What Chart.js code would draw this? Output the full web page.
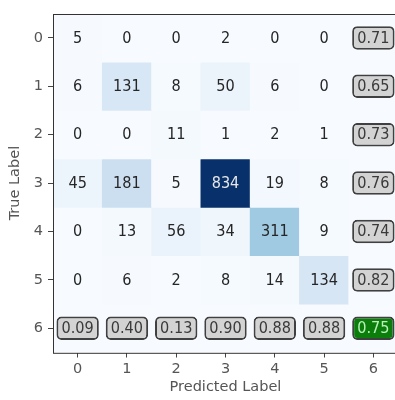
<!DOCTYPE html>
<html>
<head>
<meta charset="utf-8">
<script src="https://cdn.jsdelivr.net/npm/chart.js@4.4.0/dist/chart.umd.min.js"></script>
<style>
html,body{margin:0;padding:0;overflow:hidden;background:#fff;}
#wrap{position:absolute;left:0;top:0;width:401px;height:400px;}
</style>
</head>
<body>
<div id="wrap"><canvas id="c" width="401" height="400"></canvas></div>
<script>
const predictedLabels = ['0','1','2','3','4','5','6'];
const trueLabels = ['0','1','2','3','4','5','6'];
const counts = [
  [5, 0, 0, 2, 0, 0],
  [6, 131, 8, 50, 6, 0],
  [0, 0, 11, 1, 2, 1],
  [45, 181, 5, 834, 19, 8],
  [0, 13, 56, 34, 311, 9],
  [0, 6, 2, 8, 14, 134]
];
const rowScores = ['0.71','0.65','0.73','0.76','0.74','0.82'];
const colScores = ['0.09','0.40','0.13','0.90','0.88','0.88'];
const overallScore = '0.75';

const FONT = "'DejaVu Sans', sans-serif";
const blues = ['#f7fbff','#deebf7','#c6dbef','#9ecae1','#6baed6','#4292c6','#2171b5','#08519c','#08306b'];
function hex(h){return [parseInt(h.slice(1,3),16),parseInt(h.slice(3,5),16),parseInt(h.slice(5,7),16)];}
function bluesColor(t){
  t = Math.max(0, Math.min(1, t));
  const p = t * (blues.length - 1);
  const i = Math.min(Math.floor(p), blues.length - 2);
  const f = p - i;
  const a = hex(blues[i]), b = hex(blues[i+1]);
  return 'rgb(' + a.map((v,k)=>Math.round(v + (b[k]-v)*f)).join(',') + ')';
}
const maxCount = Math.max(...counts.flat());
const n = predictedLabels.length;

const datasets = [];
// heatmap cells
for (let r = 0; r < n; r++) {
  const data = [], colors = [];
  for (let c = 0; c < n; c++) {
    data.push([r - 0.5, r + 0.5]);
    const v = (r < counts.length && c < counts[0].length) ? counts[r][c] : 0;
    colors.push(bluesColor(v / maxCount));
  }
  datasets.push({data, backgroundColor: colors, borderWidth: 0, barPercentage: 1, categoryPercentage: 1, grouped: false, order: 2});
}
// score boxes
const BH = 0.243;
for (let r = 0; r < n; r++) {
  const data = [], bg = [];
  for (let c = 0; c < n; c++) {
    const isBox = (r === n - 1) || (c === n - 1);
    data.push(isBox ? [r - BH, r + BH] : null);
    bg.push((r === n - 1 && c === n - 1) ? '#0a7d0a' : '#d3d3d3');
  }
  datasets.push({data, backgroundColor: bg, borderColor: '#404040', borderWidth: 2, borderSkipped: false, borderRadius: 5, barPercentage: 0.86, categoryPercentage: 1, grouped: false, order: 1});
}

const textPlugin = {
  id: 'cellText',
  afterDatasetsDraw(chart) {
    const {ctx, scales: {x, y}} = chart;
    ctx.save();
    ctx.textAlign = 'center';
    ctx.textBaseline = 'middle';
    ctx.font = '14.5px ' + FONT;
    const sy = 1.12;
    for (let r = 0; r < n; r++) {
      for (let c = 0; c < n; c++) {
        const px = x.getPixelForValue(c), py = y.getPixelForValue(r);
        let txt, col;
        if (r < counts.length && c < counts[0].length) {
          txt = String(counts[r][c]);
          col = counts[r][c] / maxCount > 0.5 ? '#e6e6e6' : '#262626';
        } else if (r === n - 1 && c === n - 1) {
          txt = overallScore; col = '#b8f0b8';
        } else if (r === n - 1) {
          txt = colScores[c]; col = '#3a3a3a';
        } else {
          txt = rowScores[r]; col = '#3a3a3a';
        }
        ctx.fillStyle = col;
        ctx.save();
        ctx.translate(px, py + 0.5);
        ctx.scale(1, sy);
        ctx.fillText(txt, 0, 0);
        ctx.restore();
      }
    }
    ctx.restore();
  },
  afterDraw(chart) {
    const {ctx, chartArea: a} = chart;
    ctx.save();
    ctx.strokeStyle = '#333';
    ctx.lineWidth = 1;
    ctx.strokeRect(Math.round(a.left) + 0.5, Math.round(a.top) + 0.5, a.right - a.left, a.bottom - a.top);
    ctx.restore();
  }
};

new Chart(document.getElementById('c'), {
  type: 'bar',
  data: {labels: predictedLabels, datasets},
  options: {
    responsive: false,
    animation: false,
    events: [],
    layout: {padding: {left: 0, top: 7, right: 3, bottom: 0}},
    plugins: {legend: {display: false}, tooltip: {enabled: false}},
    scales: {
      x: {
        type: 'category',
        offset: true,
        grid: {display: true, drawOnChartArea: false, drawTicks: true, tickLength: 5, tickColor: '#444', offset: false},
        border: {display: false},
        ticks: {color: '#555', font: {family: FONT, size: 14.5}, padding: 3, maxRotation: 0},
        title: {display: true, text: 'Predicted Label', color: '#555', font: {family: FONT, size: 14.5}, padding: {top: 4, bottom: 4}},
        afterFit(s) { s.height = 47.5; }
      },
      y: {
        type: 'linear',
        min: -0.5, max: 6.5,
        reverse: true,
        afterBuildTicks(s) { s.ticks = trueLabels.map((l, i) => ({value: i})); },
        grid: {display: true, drawOnChartArea: false, drawTicks: true, tickLength: 5, tickColor: '#444'},
        border: {display: false},
        ticks: {color: '#555', font: {family: FONT, size: 14.5}, padding: 5, callback: (v) => trueLabels[v]},
        title: {display: true, text: 'True Label', color: '#555', font: {family: FONT, size: 14.5}, padding: {top: 6.5, bottom: 6.5}},
        afterFit(s) { s.width = 53; }
      }
    }
  },
  plugins: [textPlugin]
});
</script>
</body>
</html>
